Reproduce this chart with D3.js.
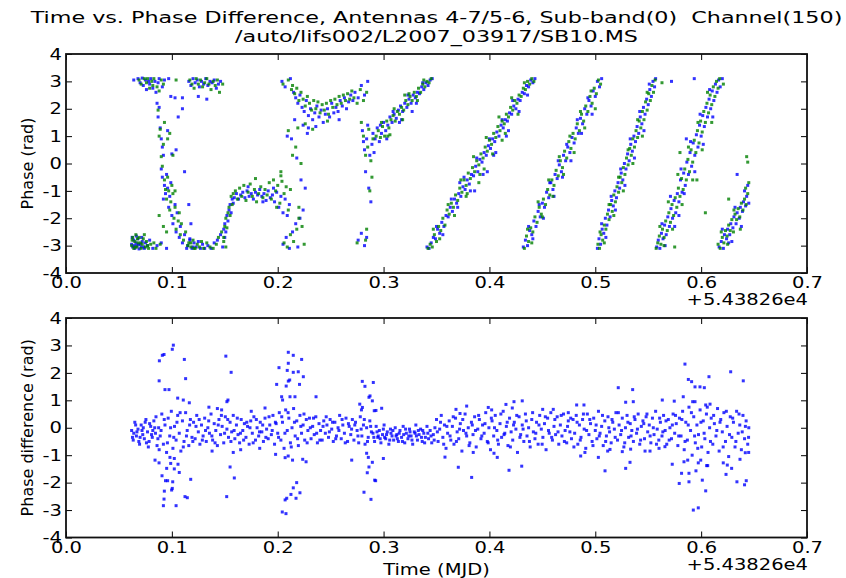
<!DOCTYPE html>
<html>
<head>
<meta charset="utf-8">
<script src="https://cdn.jsdelivr.net/npm/d3@7"></script>
<style>
  body { margin: 0; background: #fff; }
  text { font-family: "DejaVu Sans", sans-serif; fill: #000; }
</style>
</head>
<body>
<script>
// tick values and labels
var timeTicks = [0, 0.1, 0.2, 0.3, 0.4, 0.5, 0.6, 0.7];
var timeTickLabels = ['0.0', '0.1', '0.2', '0.3', '0.4', '0.5', '0.6', '0.7'];
var phaseTicks = [-4, -3, -2, -1, 0, 1, 2, 3, 4];
var phaseTickLabels = ['-4', '-3', '-2', '-1', '0', '1', '2', '3', '4'];
var timeOffsetLabel = '+5.43826e4';

// phase of first baseline (blue), [time, rad]
var phaseA = [
  [.062,-2.95],[.063,-3.05],[.064,-2.8],[.065,-3.1],[.066,-2.9],[.067,-3.0],[.068,-2.75],[.069,-3.12],[.070,-2.95],[.071,-3.05],
  [.072,-2.85],[.074,-3.1],[.075,-2.9],[.077,-3.0],[.079,-2.8],[.082,-3.1],[.086,-3.0],[.090,-2.9],[.095,-3.1],
  [.0625,-2.7],[.0645,-3.0],[.0665,-2.65],[.0685,-2.95],[.0715,-2.7],[.0735,-3.05],
  [.064,3.05],[.068,3.1],[.070,2.95],[.072,3.12],[.073,2.85],[.075,3.05],[.076,2.7],[.078,3.0],[.079,2.9],[.080,3.1],
  [.082,2.75],[.084,3.0],[.085,2.6],[.087,2.95],[.088,3.1],[.091,2.8],[.093,3.05],[.097,3.1],
  [.086,2.2],[.087,1.7],[.088,2.05],[.089,1.3],[.090,0.9],[.091,0.6],[.092,0.3],[.090,-0.2],[.091,-0.5],[.093,-0.8],
  [.094,-1.1],[.092,-1.3],[.095,-0.4],[.096,-0.9],[.097,-1.6],[.098,-1.2],[.099,-0.7],[.100,-1.9],[.101,-2.2],[.103,-1.5],
  [.104,-2.5],[.105,-1.8],[.107,-2.7],[.108,-2.3],[.110,-2.9],[.112,-2.6],[.114,-3.1],[.117,-2.8],[.120,-3.05],[.096,1.2],
  [.100,0.35],[.104,0.5],[.106,1.7],[.099,2.45],[.103,2.4],[.110,2.0],[.112,-0.3],[.116,-1.5],[.118,-2.2],
  [.115,-3.0],[.117,-2.75],[.119,-3.1],[.121,-2.9],[.123,-3.05],[.125,-2.85],[.127,-3.1],[.129,-2.95],[.131,-3.1],[.134,-3.0],
  [.137,-3.1],[.140,-2.9],[.143,-2.8],[.146,-2.6],[.148,-3.05],[.150,-2.7],
  [.116,3.0],[.118,2.85],[.120,3.1],[.122,2.95],[.124,3.05],[.126,2.8],[.128,3.0],[.130,2.9],[.132,3.1],[.134,2.85],
  [.136,3.0],[.138,2.95],[.140,3.05],[.142,2.75],[.144,2.9],[.146,3.0],[.125,2.45],[.133,2.35],[.110,2.4],
  [.149,-2.4],[.150,-2.2],[.151,-2.5],[.152,-1.9],[.153,-2.1],[.154,-1.7],[.155,-1.5],[.156,-1.8],[.157,-1.3],[.158,-1.45],
  [.159,-1.25],[.161,-1.1],[.163,-1.3],[.165,-1.15],[.167,-1.05],[.169,-1.25],[.171,-1.0],[.173,-1.2],[.175,-1.1],[.177,-1.3],
  [.179,-1.05],[.181,-1.15],[.183,-0.95],[.185,-1.2],[.187,-1.1],[.189,-1.35],[.191,-1.0],[.193,-1.25],[.195,-1.15],[.197,-1.4],
  [.199,-1.05],[.201,-1.6],[.203,-1.2],[.205,-1.8],[.207,-1.3],[.209,-1.9],[.211,-1.5],[.172,-0.85],[.186,-1.4],[.196,-0.9],
  [.205,-2.95],[.208,-2.7],[.211,-3.1],[.214,-2.5],[.217,-2.2],[.219,-3.05],[.221,-2.0],[.224,-1.7],[.226,-0.9],[.222,-0.6],
  [.218,0.2],[.213,0.9],[.209,1.0],[.224,1.4],[.216,1.6],[.228,1.1],[.204,3.0],[.207,2.8],[.212,3.1],
  [.215,2.6],[.217,2.4],[.219,2.2],[.221,2.5],[.223,2.05],[.225,1.9],[.227,2.3],[.229,1.75],[.231,2.0],[.233,1.6],
  [.235,1.85],[.237,2.1],[.239,1.7],[.241,1.95],[.243,1.5],[.245,1.8],[.247,2.0],[.249,1.7],[.251,2.2],[.253,1.85],
  [.255,2.05],[.257,1.9],[.259,2.3],[.261,2.1],[.263,2.4],[.265,2.0],[.267,2.25],[.269,2.5],[.271,2.3],[.273,2.6],
  [.276,2.4],[.279,2.85],[.282,2.5],[.285,3.0],[.229,1.3],[.236,1.35],[.258,1.6],
  [.280,1.2],[.281,0.8],[.282,0.5],[.283,-0.3],[.284,0.9],[.285,1.4],[.286,-0.9],[.287,0.3],[.288,-1.4],[.289,0.7],
  [.290,1.1],[.291,0.4],[.276,-2.8],[.279,-2.55],[.282,-3.0],[.284,-2.7],
  [.292,0.9],[.294,1.3],[.296,0.8],[.298,1.1],[.300,1.5],[.302,1.2],[.304,1.4],[.306,1.7],[.308,1.5],[.310,1.8],
  [.312,1.65],[.314,1.95],[.316,2.1],[.318,1.9],[.320,2.2],[.322,2.05],[.324,2.35],[.326,2.2],[.328,2.5],[.330,2.4],
  [.332,2.6],[.334,2.55],[.336,2.8],[.338,2.7],[.340,2.95],[.342,2.85],[.344,3.05],[.346,3.1],[.315,1.5],[.327,1.9],
  [.297,1.4],[.303,0.9],[.309,1.9],[.317,1.6],[.323,2.5],[.331,2.2],[.337,2.95],
  [.341,-3.05],[.343,-3.1],[.345,-2.9],[.347,-2.7],[.349,-2.75],[.351,-2.4],[.353,-2.55],[.355,-2.15],[.357,-2.3],[.359,-1.9],
  [.361,-1.95],[.363,-1.6],[.365,-1.75],[.367,-1.3],[.369,-1.45],[.371,-1.1],[.373,-1.2],[.375,-0.85],[.377,-0.95],[.379,-0.6],
  [.381,-0.75],[.383,-0.4],[.385,-0.45],[.387,-0.1],[.389,-0.3],[.391,0.15],[.393,0.05],[.395,0.4],[.397,0.3],[.399,0.65],
  [.401,0.55],[.403,0.9],[.405,0.8],[.407,1.15],[.409,1.0],[.411,1.4],[.413,1.3],[.415,1.6],[.417,1.55],[.419,1.85],
  [.421,1.8],[.423,2.1],[.425,2.0],[.427,2.35],[.429,2.3],[.431,2.6],[.433,2.55],[.435,2.85],[.437,2.8],[.439,3.05],
  [.441,2.95],[.443,3.1],[.372,-0.7],[.386,-1.0],[.404,0.3],[.418,1.2],[.398,-0.3],
  [.350,-2.3],[.356,-2.6],[.364,-1.3],[.370,-1.6],[.376,-0.5],[.382,-1.0],[.388,0.2],[.394,-0.4],[.400,0.9],[.406,0.4],
  [.412,1.6],[.416,1.0],[.422,2.3],[.428,1.9],[.436,2.5],
  [.432,-3.05],[.434,-2.8],[.436,-3.0],[.438,-2.45],[.440,-2.6],[.442,-2.1],[.444,-2.3],[.446,-1.75],[.448,-1.95],[.450,-1.45],
  [.452,-1.6],[.454,-1.05],[.456,-1.25],[.458,-0.7],[.460,-0.95],[.462,-0.4],[.464,-0.55],[.466,-0.05],[.468,-0.3],[.470,0.3],
  [.472,0.1],[.474,0.6],[.476,0.4],[.478,0.95],[.480,0.75],[.482,1.3],[.484,1.1],[.486,1.65],[.488,1.45],[.490,2.0],
  [.492,1.8],[.494,2.3],[.496,2.1],[.498,2.65],[.500,2.45],[.502,3.0],[.504,2.8],[.506,3.1],
  [.437,-2.3],[.441,-2.75],[.447,-1.5],[.451,-2.0],[.457,-0.7],[.461,-1.2],[.465,0.1],[.469,-0.5],[.473,0.7],[.477,0.1],
  [.483,1.6],[.487,1.1],[.493,2.4],[.497,1.8],
  [.502,-3.1],[.5035,-2.75],[.505,-2.95],[.5065,-2.4],[.508,-2.55],[.5095,-2.0],[.511,-2.25],[.5125,-1.7],[.514,-1.95],[.5155,-1.35],
  [.517,-1.55],[.5185,-1.0],[.520,-1.25],[.5215,-0.7],[.523,-0.9],[.5245,-0.35],[.526,-0.6],[.5275,0.0],[.529,-0.2],[.5305,0.35],
  [.532,0.1],[.5335,0.7],[.535,0.45],[.5365,1.0],[.538,0.8],[.5395,1.35],[.541,1.1],[.5425,1.7],[.544,1.45],[.5455,2.05],
  [.547,1.8],[.5485,2.35],[.550,2.15],[.5515,2.7],[.553,2.45],[.5545,3.0],[.556,2.8],[.557,3.1],
  [.506,-2.2],[.510,-2.7],[.515,-1.2],[.519,-1.7],[.524,-0.2],[.528,-0.8],[.533,0.9],[.537,0.2],[.542,1.9],[.546,1.2],[.551,2.9],
  [.558,-3.05],[.5595,-2.8],[.561,-3.1],[.5625,-2.55],[.564,-2.75],[.5655,-2.25],[.567,-2.6],[.5685,-1.95],[.570,-2.3],[.5715,-1.65],
  [.573,-2.0],[.5745,-1.35],[.576,-1.8],[.5775,-1.1],[.579,-1.4],[.5805,-0.6],[.582,-1.05],[.5835,-0.35],[.585,-0.8],[.5865,0.05],
  [.588,-0.4],[.5895,0.4],[.591,-0.1],[.5925,0.75],[.594,0.3],[.5955,1.05],[.597,0.6],[.5985,1.4],[.600,1.0],[.6015,1.75],
  [.603,1.35],[.6045,2.05],[.606,1.7],[.6075,2.35],[.609,2.0],[.6105,2.65],[.612,2.3],[.6135,2.9],[.615,2.6],[.6165,3.05],
  [.618,2.8],[.620,3.1],[.5935,3.1],[.572,3.0],[.586,0.9],[.579,-1.9],
  [.563,-2.2],[.566,-3.0],[.571,-1.2],[.575,-2.3],[.581,-0.2],[.584,-1.1],[.590,0.8],[.594,-0.3],[.599,1.8],[.602,0.7],
  [.608,2.7],[.611,1.7],
  [.617,-3.05],[.619,-2.85],[.621,-3.1],[.622,-2.6],[.624,-2.75],[.625,-2.4],[.627,-2.6],[.628,-2.2],[.630,-2.35],[.631,-1.95],
  [.633,-2.2],[.634,-1.8],[.636,-2.0],[.637,-1.6],[.639,-1.75],[.640,-1.4],[.642,-1.55],[.643,-1.2],[.645,-1.45],[.644,-0.8],
  [.634,-0.4],[.629,-2.85],[.620,-2.4],[.626,-2.9],[.632,-1.6],[.638,-2.3],[.641,-1.0]
];

// phase of second baseline (green), [time, rad]
var phaseB = [
  [.062,-3.0],[.063,-2.7],[.064,-3.1],[.065,-2.85],[.066,-2.6],[.067,-3.05],[.068,-2.9],[.069,-2.7],[.071,-3.1],[.072,-2.95],
  [.073,-2.75],[.075,-3.05],[.076,-2.85],[.078,-3.1],[.080,-2.95],[.083,-2.9],[.085,-3.1],[.089,-2.95],
  [.0625,-2.8],[.0655,-3.05],[.0675,-2.75],[.0705,-2.9],[.074,-2.6],[.077,-3.0],
  [.069,3.05],[.071,2.9],[.074,3.1],[.076,2.95],[.077,3.1],[.079,2.75],[.081,3.0],[.082,2.85],[.083,3.1],[.086,2.8],
  [.088,2.65],[.090,3.05],[.092,2.9],
  [.087,1.95],[.088,1.0],[.089,1.25],[.090,0.25],[.091,-0.1],[.092,0.7],[.093,-0.6],[.094,-0.95],[.095,-1.3],[.096,-0.5],
  [.097,-1.0],[.098,-1.7],[.099,-1.4],[.100,-0.8],[.101,-1.1],[.102,-2.0],[.103,-1.6],[.104,-2.4],[.106,-2.1],[.107,-1.8],
  [.108,-2.6],[.109,-2.2],[.111,-2.8],[.113,-2.5],[.115,-3.0],[.118,-2.9],[.121,-3.1],[.093,1.5],[.096,0.9],[.098,1.1],
  [.101,0.3],[.088,-1.9],[.092,-2.3],[.095,-2.5],[.103,-1.0],
  [.116,-2.9],[.118,-3.05],[.120,-2.8],[.122,-3.1],[.124,-2.95],[.126,-3.05],[.128,-2.85],[.130,-3.1],[.133,-2.9],[.136,-3.05],
  [.139,-3.1],[.142,-2.95],[.144,-2.7],[.147,-2.5],[.149,-2.85],[.151,-3.05],
  [.117,3.05],[.119,2.9],[.121,2.75],[.123,3.1],[.125,2.9],[.127,3.05],[.129,2.8],[.131,2.95],[.133,3.1],[.135,2.9],
  [.137,2.7],[.139,3.0],[.141,2.85],[.143,3.05],[.145,2.6],[.148,2.9],[.104,3.05],
  [.149,-2.7],[.150,-2.3],[.151,-2.0],[.152,-2.35],[.153,-1.8],[.154,-1.6],[.155,-1.9],[.156,-1.2],[.157,-1.5],[.158,-1.1],
  [.160,-1.0],[.162,-1.3],[.164,-0.9],[.166,-1.2],[.168,-0.8],[.170,-1.35],[.172,-1.05],[.174,-0.75],[.176,-1.2],[.178,-0.95],
  [.180,-1.4],[.182,-1.1],[.184,-0.85],[.186,-1.25],[.188,-0.95],[.190,-1.15],[.192,-0.7],[.194,-1.3],[.196,-0.6],[.198,-1.0],
  [.200,-0.8],[.202,-1.45],[.204,-0.65],[.206,-1.1],[.208,-0.85],[.210,-1.7],[.212,-0.95],[.179,-0.55],[.203,-0.45],[.199,-1.6],
  [.206,-2.9],[.209,-3.05],[.212,-2.6],[.215,-2.85],[.218,-2.4],[.220,-2.0],[.223,-2.3],[.225,-2.95],[.220,-1.6],[.217,0.6],
  [.214,0.3],[.222,0.0],[.210,1.2],[.219,1.3],[.203,-0.3],[.205,2.9],[.210,3.05],[.213,2.7],
  [.214,2.85],[.216,2.55],[.218,2.75],[.220,2.3],[.222,2.6],[.224,2.35],[.226,2.1],[.228,2.45],[.230,2.2],[.232,1.95],
  [.234,2.3],[.236,2.0],[.238,2.25],[.240,1.85],[.242,2.15],[.244,1.95],[.246,2.2],[.248,1.8],[.250,2.3],[.252,2.05],
  [.254,2.35],[.256,2.15],[.258,2.45],[.260,2.2],[.262,2.5],[.264,2.3],[.266,2.55],[.268,2.35],[.270,2.65],[.272,2.4],
  [.275,2.2],[.278,2.7],[.281,2.3],[.284,2.6],[.226,1.45],[.233,1.25],[.247,1.55],
  [.279,1.5],[.281,1.0],[.283,0.3],[.285,0.6],[.286,1.25],[.288,0.1],[.289,-0.5],[.290,0.9],[.287,-1.0],[.284,-2.4],
  [.275,-2.9],[.283,-2.8],
  [.293,1.0],[.295,1.2],[.297,0.95],[.299,1.35],[.301,1.0],[.303,1.55],[.305,1.3],[.307,1.6],[.309,1.75],[.311,1.55],
  [.313,1.9],[.315,1.8],[.317,2.05],[.319,1.95],[.321,2.3],[.323,2.15],[.325,2.45],[.327,2.3],[.329,2.6],[.331,2.45],
  [.333,2.75],[.335,2.6],[.337,2.9],[.339,2.8],[.341,3.0],[.343,2.95],[.345,3.1],[.306,1.05],[.320,2.5],
  [.298,1.5],[.304,1.0],[.310,2.0],[.318,1.6],[.324,2.55],[.332,2.3],[.338,3.05],
  [.342,-3.1],[.344,-2.95],[.346,-3.05],[.348,-2.6],[.350,-2.85],[.352,-2.3],[.354,-2.45],[.356,-2.0],[.358,-2.25],[.360,-1.7],
  [.362,-1.85],[.364,-1.45],[.366,-1.6],[.368,-1.15],[.370,-1.35],[.372,-0.9],[.374,-1.05],[.376,-0.6],[.378,-0.8],[.380,-0.35],
  [.382,-0.55],[.384,-0.15],[.386,-0.3],[.388,0.1],[.390,-0.05],[.392,0.35],[.394,0.2],[.396,0.6],[.398,0.45],[.400,0.85],
  [.402,0.7],[.404,1.1],[.406,0.95],[.408,1.35],[.410,1.2],[.412,1.55],[.414,1.45],[.416,1.8],[.418,1.7],[.420,2.05],
  [.422,1.95],[.424,2.3],[.426,2.2],[.428,2.5],[.430,2.45],[.432,2.75],[.434,2.7],[.436,3.0],[.438,2.9],[.440,3.1],
  [.442,3.0],[.378,-1.2],[.395,-0.2],[.412,0.85],[.390,-0.7],
  [.347,-2.4],[.353,-2.75],[.361,-1.5],[.367,-1.9],[.373,-0.6],[.379,-1.1],[.385,0.25],[.391,-0.4],[.397,0.95],[.403,0.35],
  [.409,1.7],[.415,1.1],[.421,2.4],[.427,1.8],[.433,2.95],
  [.433,-3.1],[.435,-2.65],[.437,-2.85],[.439,-2.35],[.441,-2.5],[.443,-1.95],[.445,-2.15],[.447,-1.6],[.449,-1.85],[.451,-1.3],
  [.453,-1.5],[.455,-0.95],[.457,-1.15],[.459,-0.6],[.461,-0.8],[.463,-0.25],[.465,-0.45],[.467,0.1],[.469,-0.15],[.471,0.45],
  [.473,0.2],[.475,0.8],[.477,0.55],[.479,1.1],[.481,0.9],[.483,1.45],[.485,1.2],[.487,1.8],[.489,1.55],[.491,2.1],
  [.493,1.9],[.495,2.45],[.497,2.2],[.499,2.75],[.501,2.55],[.503,3.05],[.505,2.9],
  [.436,-2.4],[.440,-2.9],[.446,-1.4],[.450,-1.95],[.456,-0.6],[.460,-1.2],[.466,0.25],[.470,-0.4],[.476,1.0],[.480,0.4],
  [.486,1.9],[.490,1.3],[.496,2.65],[.500,2.0],
  [.5025,-2.95],[.504,-3.1],[.5055,-2.6],[.507,-2.8],[.5085,-2.25],[.510,-2.4],[.5115,-1.85],[.513,-2.05],[.5145,-1.5],[.516,-1.75],
  [.5175,-1.15],[.519,-1.4],[.5205,-0.85],[.522,-1.05],[.5235,-0.5],[.525,-0.7],[.5265,-0.15],[.528,-0.4],[.5295,0.2],[.531,-0.05],
  [.5325,0.55],[.534,0.3],[.5355,0.9],[.537,0.6],[.5385,1.2],[.540,0.95],[.5415,1.55],[.543,1.3],[.5445,1.9],[.546,1.6],
  [.5475,2.25],[.549,1.95],[.5505,2.55],[.552,2.3],[.5535,2.85],[.555,2.6],[.5565,3.05],
  [.5045,-2.5],[.5085,-2.9],[.513,-1.5],[.5175,-1.9],[.522,-0.5],[.5265,-1.0],[.531,0.5],[.5355,0.0],[.540,1.6],[.5445,1.0],[.549,2.6],
  [.5575,-3.1],[.559,-2.9],[.5605,-2.65],[.562,-2.95],[.5635,-2.4],[.565,-2.7],[.5665,-2.1],[.568,-2.45],[.5695,-1.8],[.571,-2.15],
  [.5725,-1.5],[.574,-1.9],[.5755,-1.25],[.577,-1.6],[.5785,-0.9],[.580,-1.2],[.5815,-0.55],[.583,-0.95],[.5845,-0.2],[.586,-0.6],
  [.5875,0.15],[.589,-0.3],[.5905,0.5],[.592,0.05],[.5935,0.85],[.595,0.4],[.5965,1.2],[.598,0.75],[.5995,1.55],[.601,1.15],
  [.6025,1.9],[.604,1.5],[.6055,2.2],[.607,1.85],[.6085,2.5],[.610,2.15],[.6115,2.8],[.613,2.45],[.6145,3.0],[.616,2.75],
  [.6175,3.1],[.621,2.9],[.563,2.95],[.575,-3.05],[.580,0.4],[.604,-1.8],[.596,-0.6],
  [.561,-2.3],[.565,-3.0],[.569,-1.4],[.573,-2.4],[.578,-0.4],[.582,-1.5],[.588,0.6],[.592,-0.6],[.597,1.5],[.601,0.5],
  [.606,2.6],[.610,1.5],
  [.616,-2.95],[.618,-3.1],[.620,-2.7],[.6215,-2.9],[.623,-2.45],[.6245,-2.65],[.626,-2.25],[.6275,-2.45],[.629,-2.05],[.6305,-2.5],
  [.632,-1.85],[.6335,-2.05],[.635,-1.65],[.6365,-1.95],[.638,-1.45],[.6395,-1.7],[.641,-1.3],[.6425,-1.5],[.644,-1.1],[.645,-0.7],
  [.643,0.25],[.644,0.05],[.626,-1.3],[.619,-2.5],[.625,-2.95],[.631,-1.7],[.637,-2.4],[.642,-0.9]
];

// phase difference, main band, [time, rad]
var phaseDiff = [
  [.062,-0.1],[.0635,-0.45],[.065,0.2],[.0665,-0.3],[.068,-0.05],[.0695,-0.6],[.071,0.1],[.0725,-0.25],[.074,-0.4],[.0755,0.3],
  [.077,-0.15],[.0785,-0.5],[.080,0.05],[.0815,-0.35],[.083,0.25],[.0845,-0.2],[.086,-0.65],[.0875,0.0],[.089,-0.3],
  [.064,-0.2],[.067,-0.15],[.070,-0.35],[.073,0.0],[.076,-0.55],[.079,0.15],[.082,-0.1],[.085,0.4],[.088,-0.8],
  [.0628,-0.35],[.0658,0.1],[.0688,-0.5],[.0718,-0.1],[.0748,0.2],[.0778,-0.7],[.0808,-0.25],[.0838,0.0],[.0868,-0.4],
  [.0905,0.5],[.092,-0.6],[.0935,0.1],[.095,-0.9],[.0965,0.35],[.098,-0.3],[.0995,0.6],[.101,-0.75],[.1025,0.05],[.104,-0.45],
  [.1055,0.45],[.107,-0.2],[.1085,-0.85],[.110,0.25],[.1115,-0.5],[.113,0.55],[.1145,-0.1],[.116,-0.65],[.1175,0.3],[.119,-0.35],
  [.0898,-0.1],[.0928,0.3],[.0958,-0.55],[.0988,0.0],[.1018,-0.35],[.1048,0.2],[.1078,0.55],[.1108,-0.7],[.1138,-0.3],[.1168,0.1],
  [.1205,0.2],[.122,-0.4],[.1235,0.45],[.125,-0.15],[.1265,-0.6],[.128,0.1],[.1295,-0.3],[.131,0.35],[.1325,-0.5],[.134,0.0],
  [.1355,-0.2],[.137,0.5],[.1385,-0.45],[.140,0.15],[.1415,-0.1],[.143,-0.65],[.1445,0.3],[.146,-0.25],[.1475,0.05],[.149,-0.55],
  [.1505,0.4],[.152,-0.05],[.1535,-0.35],[.155,0.2],[.1565,-0.15],[.158,0.45],[.1595,-0.4],[.161,0.1],[.1625,-0.25],[.164,-0.55],
  [.1655,0.3],[.167,-0.1],[.1685,0.15],[.170,-0.35],[.1715,0.05],[.173,-0.6],[.1745,0.25],[.176,-0.2],[.1775,0.4],[.179,-0.45],
  [.1805,0.0],[.182,-0.3],[.1835,0.2],[.185,-0.15],[.1865,-0.5],[.188,0.35],[.1895,-0.05],[.191,-0.4],[.1925,0.1],[.194,-0.25],
  [.1955,0.45],[.197,-0.6],[.1985,0.15],[.200,-0.2],
  [.1198,-0.5],[.1228,0.05],[.1258,0.3],[.1288,-0.45],[.1318,-0.1],[.1348,0.25],[.1378,-0.3],[.1408,-0.55],[.1438,0.1],[.1468,0.45],
  [.1498,-0.2],[.1528,0.3],[.1558,-0.5],[.1588,-0.1],[.1618,0.35],[.1648,-0.2],[.1678,-0.45],[.1708,0.2],[.1738,0.0],[.1768,-0.55],
  [.1798,0.3],[.1828,-0.15],[.1858,0.1],[.1888,-0.35],[.1918,0.4],[.1948,-0.1],[.1978,0.2],
  [.2015,0.55],[.203,-0.45],[.2045,0.2],[.206,-0.75],[.2075,0.65],[.209,-0.1],[.2105,0.35],[.212,-0.55],[.2135,0.0],[.215,0.7],
  [.2165,-0.3],[.218,0.25],[.2195,-0.65],[.221,0.45],[.2225,-0.2],[.224,0.1],[.2255,-0.45],[.227,0.3],[.2285,-0.1],
  [.2008,-0.35],[.2038,0.4],[.2068,-0.2],[.2098,0.55],[.2128,-0.7],[.2158,0.2],[.2188,-0.4],[.2218,0.05],[.2248,0.5],[.2278,-0.55],
  [.230,0.35],[.2315,-0.4],[.233,0.05],[.2345,-0.25],[.236,0.4],[.2375,-0.55],[.239,0.15],[.2405,-0.1],[.242,-0.45],[.2435,0.25],
  [.245,-0.2],[.2465,0.1],[.248,-0.35],[.2495,0.3],[.251,-0.05],[.2525,-0.5],[.254,0.2],[.2555,-0.3],[.257,0.0],[.2585,0.45],
  [.260,-0.4],[.2615,0.1],[.263,-0.2],[.2645,0.35],[.266,-0.5],[.2675,0.05],[.269,-0.25],[.2705,0.3],
  [.2308,0.0],[.2338,0.35],[.2368,-0.2],[.2398,-0.45],[.2428,0.05],[.2458,0.4],[.2488,-0.15],[.2518,0.2],[.2548,-0.4],[.2578,-0.1],
  [.2608,0.3],[.2638,-0.55],[.2668,0.15],[.2698,-0.05],
  [.272,-0.45],[.2735,0.2],[.275,-0.1],[.2765,-0.55],[.278,0.4],[.2795,-0.3],[.281,0.1],[.2825,-0.6],[.284,0.0],[.2855,-0.35],
  [.287,0.25],[.2885,-0.15],[.2728,0.1],[.2758,-0.3],[.2788,-0.05],[.2818,0.3],[.2848,-0.5],[.2878,0.05],
  [.290,-0.2],[.2915,-0.5],[.293,0.05],[.2945,-0.35],[.296,-0.1],[.2975,-0.55],[.299,-0.25],[.3005,0.1],[.302,-0.4],[.3035,-0.15],
  [.305,-0.6],[.3065,-0.05],[.308,-0.3],[.3095,-0.45],[.311,0.0],[.3125,-0.25],[.314,-0.5],[.3155,-0.1],[.317,-0.35],[.3185,0.05],
  [.320,-0.55],[.3215,-0.2],[.323,-0.4],[.3245,-0.05],[.326,-0.3],[.3275,-0.6],[.329,-0.15],[.3305,0.1],[.332,-0.45],[.3335,-0.25],
  [.335,-0.05],[.3365,-0.5],[.338,-0.2],[.3395,-0.35],[.341,0.05],[.3425,-0.4],[.344,-0.1],[.3455,-0.55],[.347,-0.25],[.3485,0.0],
  [.295,-0.3],[.301,-0.35],[.307,-0.2],[.313,-0.4],[.319,-0.25],[.325,-0.15],[.331,-0.3],[.337,-0.1],
  [.2908,-0.35],[.2938,-0.15],[.2968,-0.4],[.2998,-0.05],[.3028,-0.25],[.3058,-0.45],[.3088,-0.1],[.3118,-0.3],[.3148,-0.2],[.3178,-0.5],
  [.3208,-0.05],[.3238,-0.3],[.3268,-0.45],[.3298,-0.2],[.3328,-0.1],[.3358,-0.35],[.3388,-0.55],[.3418,-0.2],[.3448,-0.3],[.3478,-0.45],
  [.350,0.3],[.3515,-0.5],[.353,-0.05],[.3545,0.45],[.356,-0.35],[.3575,0.1],[.359,-0.75],[.3605,-0.2],[.362,0.25],[.3635,-0.45],
  [.365,0.05],[.3665,-0.6],[.368,0.35],[.3695,-0.15],[.371,-0.4],[.3725,0.15],[.374,-0.85],[.3755,-0.1],[.377,0.5],[.3785,-0.3],
  [.380,0.0],[.3815,-0.55],[.383,0.2],[.3845,-0.25],[.386,0.4],[.3875,-0.7],[.389,-0.05],[.3905,0.3],[.392,-0.4],[.3935,0.1],
  [.395,-0.2],[.3965,0.55],[.398,-0.5],[.3995,0.0],[.401,-0.8],[.4025,0.25],[.404,-0.3],[.4055,0.45],[.407,-0.1],[.4085,-0.6],
  [.410,0.15],[.4115,-0.35],[.413,0.6],[.4145,-0.2],[.416,0.05],[.4175,-0.65],[.419,0.35],[.4205,-0.15],[.422,-0.45],[.4235,0.2],
  [.425,-0.05],[.4265,-0.9],[.428,0.4],[.4295,-0.25],[.431,0.1],[.4325,-0.5],[.434,0.5],[.4355,-0.3],[.437,0.0],[.4385,-0.7],
  [.440,0.3],[.4415,-0.15],[.443,-0.4],[.4445,0.2],[.446,-0.6],[.4475,0.45],[.449,-0.05],[.4505,-0.35],[.452,0.15],[.4535,-0.8],
  [.455,0.35],[.4565,-0.2],[.458,0.55],[.4595,-0.45],[.461,0.05],[.4625,-0.25],[.464,0.4],[.4655,-0.6],[.467,0.1],[.4685,-0.3],
  [.470,0.5],[.4715,-0.1],[.473,-0.55],[.4745,0.25],[.476,-0.15],[.4775,-0.4],[.479,0.3],
  [.3508,-0.15],[.3538,0.2],[.3568,-0.6],[.3598,0.05],[.3628,-0.3],[.3658,0.4],[.3688,-0.5],[.3718,-0.05],[.3748,0.3],[.3778,-0.2],
  [.3808,-0.65],[.3838,0.1],[.3868,-0.1],[.3898,0.45],[.3928,-0.3],[.3958,0.15],[.3988,-0.55],[.4018,0.35],[.4048,0.0],[.4078,-0.45],
  [.4108,0.5],[.4138,-0.25],[.4168,0.2],[.4198,-0.7],[.4228,0.1],[.4258,0.45],[.4288,-0.35],[.4318,-0.05],[.4348,0.25],[.4378,-0.5],
  [.4408,0.55],[.4438,-0.2],[.4468,0.1],[.4498,-0.6],[.4528,0.4],[.4558,-0.1],[.4588,-0.35],[.4618,0.3],[.4648,-0.15],[.4678,0.45],
  [.4708,-0.5],[.4738,0.05],[.4768,0.35],[.4798,-0.7],
  [.4805,-0.2],[.482,0.45],[.4835,-0.6],[.485,0.1],[.4865,-0.35],[.488,0.3],[.4895,-0.05],[.491,-0.75],[.4925,0.5],[.494,-0.25],
  [.4955,0.15],[.497,-0.5],[.4985,0.35],[.500,-0.1],[.5015,-0.4],[.503,0.6],[.5045,-0.2],[.506,0.05],[.5075,-0.65],[.509,0.25],
  [.5105,-0.3],[.512,0.4],[.5135,-0.15],[.515,-0.55],[.5165,0.2],[.518,-0.05],[.5195,0.55],[.521,-0.45],[.5225,0.1],[.524,-0.25],
  [.5255,0.35],[.527,-0.7],[.5285,0.0],[.530,0.45],[.5315,-0.35],[.533,0.15],[.5345,-0.1],[.536,-0.5],[.5375,0.3],[.539,-0.2],
  [.5405,0.5],[.542,-0.6],[.5435,0.05],[.545,0.25],[.5465,-0.4],[.548,0.4],[.5495,-0.15],[.551,0.1],[.5525,-0.55],[.554,0.35],
  [.5555,-0.25],[.557,0.6],[.5585,-0.05],[.560,-0.45],[.5615,0.2],[.563,-0.3],[.5645,0.45],[.566,-0.1],[.5675,-0.6],[.569,0.3],
  [.5705,0.0],[.572,-0.4],[.5735,0.5],[.575,-0.2],[.5765,0.15],[.578,-0.65],[.5795,0.35],
  [.4828,0.2],[.4858,-0.45],[.4888,0.5],[.4918,-0.1],[.4948,0.3],[.4978,-0.65],[.5008,0.1],[.5038,-0.3],[.5068,0.45],[.5098,-0.5],
  [.5128,0.0],[.5158,0.3],[.5188,-0.35],[.5218,0.55],[.5248,-0.1],[.5278,-0.55],[.5308,0.2],[.5338,-0.3],[.5368,0.4],[.5398,-0.05],
  [.5428,-0.45],[.5458,0.15],[.5488,0.5],[.5518,-0.3],[.5548,0.0],[.5578,-0.6],[.5608,0.35],[.5638,-0.15],[.5668,0.25],[.5698,-0.45],
  [.5728,0.1],[.5758,0.45],[.5788,-0.3],
  [.581,-0.3],[.5825,0.6],[.584,-0.8],[.5855,0.2],[.587,-0.45],[.5885,0.75],[.590,-0.1],[.5915,-1.0],[.593,0.4],[.5945,-0.55],
  [.596,0.1],[.5975,-0.25],[.599,0.65],[.6005,-0.7],[.602,0.25],[.6035,-0.4],[.605,0.5],[.6065,-0.9],[.608,0.0],[.6095,0.35],
  [.611,-0.6],[.6125,0.15],[.614,-0.3],[.6155,0.7],[.617,-0.85],[.6185,0.3],[.620,-0.15],[.6215,0.55],[.623,-0.5],[.6245,0.05],
  [.626,-1.05],[.6275,0.4],[.629,-0.35],[.6305,0.2],[.632,-0.7],[.6335,0.6],[.635,-0.2],[.6365,0.1],[.638,-0.8],[.6395,0.45],
  [.641,-0.4],[.6425,0.25],[.644,-0.6],[.645,0.0],
  [.5818,0.3],[.5848,-0.5],[.5878,0.1],[.5908,0.55],[.5938,-0.3],[.5968,-0.75],[.5998,0.2],[.6028,-0.2],[.6058,0.75],[.6088,-0.5],
  [.6118,0.45],[.6148,-0.1],[.6178,0.2],[.6208,-0.7],[.6238,0.6],[.6268,-0.25],[.6298,0.35],[.6328,-0.5],[.6358,0.5],[.6388,-0.15],
  [.6418,0.05],[.6448,-0.35]
];

// phase difference, scattered points away from the band
var phaseDiffOutliers = [
  [.1014,3.01],[.1004,2.86],[.0926,2.67],[.091,2.64],[.0882,2.44],[.1118,2.49],[.088,1.71],[.113,1.79],[.0935,1.39],[.0973,1.39],
  [.1055,1.08],[.1108,1.01],[.1165,0.91],[.151,2.61],[.156,2.02],[.153,1.01],[.152,0.95],
  [.092,-2.84],[.104,-2.84],[.0926,-2.6],[.0998,-2.27],[.1004,-2.21],[.0929,-2.31],[.094,-1.93],[.096,-1.93],[.1008,-1.97],
  [.0907,-1.75],[.107,-1.63],[.1124,-2.51],[.1146,-2.55],[.1178,-1.88],[.0951,-1.48],[.1023,-1.5],[.0989,-1.3],[.1058,-1.33],
  [.0841,-1.18],[.0879,-1.28],[.0982,-1.08],[.1023,-1.12],[.1518,-2.51],[.159,-1.83],[.155,-1.43],[.158,-0.9],
  [.143,0.7],[.147,0.65],[.135,0.75],[.175,0.6],[.188,0.72],[.138,-0.85],[.165,-0.8],[.183,-0.75],
  [.21,2.75],[.2147,2.64],[.2226,2.49],[.21,2.35],[.209,2.09],[.2147,2.02],[.2194,2.04],[.2113,1.74],[.21,1.7],[.2242,1.86],
  [.2012,2.19],[.199,1.58],[.208,1.52],[.2206,1.58],[.2037,1.13],[.2046,1.01],[.2116,1.13],[.2163,1.13],[.2362,1.13],
  [.2043,-3.07],[.2078,-3.13],[.207,-2.63],[.2085,-2.57],[.2125,-2.43],[.2173,-2.57],[.221,-2.37],[.2147,-2.19],[.2179,-2.0],
  [.207,-1.09],[.2099,-1.03],[.214,-1.18],[.2236,-1.15],[.2268,-1.24],[.198,-0.97],
  [.2799,1.69],[.2903,1.65],[.2824,1.51],[.2872,1.16],[.2862,1.11],[.2894,0.98],[.2775,0.86],[.28,0.74],[.2791,0.65],[.2912,0.62],
  [.2982,0.71],[.2928,0.63],[.284,-0.93],[.2856,-1.08],[.2862,-1.43],[.2894,-1.26],[.2846,-1.64],[.2916,-1.91],[.2925,-1.93],
  [.2815,-2.35],[.2881,-2.61],[.2699,-1.18],[.2998,-1.12],
  [.358,-1.07],[.3706,-1.44],[.3832,-1.81],[.3847,-0.9],[.4185,-1.55],[.4305,-1.4],[.4043,-0.93],[.4074,-1.08],[.3785,0.79],
  [.3684,0.67],[.3722,0.52],[.4156,0.85],[.4232,0.95],[.431,0.98],[.4216,0.72],[.3989,0.74],[.4021,0.65],[.4503,0.67],
  [.4603,0.67],[.4745,0.55],
  [.5847,2.32],[.6279,2.04],[.6398,1.71],[.6074,1.86],[.5879,1.76],[.591,1.68],[.5942,1.49],[.5989,1.49],[.603,1.46],[.5217,1.46],
  [.5353,1.39],[.5633,1.01],[.5746,0.97],[.5831,1.13],[.592,0.95],[.5942,0.95],[.6084,0.86],[.6043,0.83],[.4824,0.83],[.4893,0.83],
  [.5287,0.93],[.5359,0.95],
  [.5926,-3.0],[.5973,-2.92],[.6043,-2.3],[.5793,-2.03],[.5885,-1.97],[.6011,-1.91],[.641,-2.08],[.6426,-1.93],[.6338,-1.97],
  [.6235,-1.7],[.5815,-1.66],[.5885,-1.66],[.5951,-1.57],[.5727,-1.33],[.5838,-1.24],[.5873,-1.18],[.5973,-1.28],[.5996,-1.18],
  [.6052,-1.38],[.6062,-1.38],[.6209,-1.28],[.6247,-1.36],[.6288,-1.48],[.6367,-1.15],[.5092,-1.57],[.5287,-1.48],[.5328,-1.26],
  [.5029,-1.08],[.4862,-1.03],[.4902,-0.9],[.5117,-0.85],[.5139,-0.79],[.5255,-0.87],[.5334,-0.78],[.547,-0.85],[.5517,-0.85],
  [.5602,-0.75],[.5658,-0.69],[.6417,-0.91],[.6449,-0.9]
];

var svgWidth = 846, svgHeight = 578;
var SX = 1.22;        // horizontal stretch of the original figure text
var titleSX = 1.39;
var fontSize = 16;
var markerSize = 3;

var svg = d3.select('body').append('svg')
    .attr('width', svgWidth)
    .attr('height', svgHeight);

svg.append('rect')
    .attr('width', svgWidth)
    .attr('height', svgHeight)
    .attr('fill', '#fff');

var plotLeft = 66, plotRight = 807;

var x = d3.scaleLinear().domain([0, 0.7]).range([plotLeft, plotRight]);

// title
svg.append('text')
    .attr('transform', 'translate(' + [(plotLeft + plotRight) / 2, 23] + ') scale(' + titleSX + ',1)')
    .attr('text-anchor', 'middle')
    .style('font-size', fontSize + 'px')
    .style('white-space', 'pre')
    .text('Time vs. Phase Difference, Antennas 4-7/5-6, Sub-band(0)  Channel(150)');
svg.append('text')
    .attr('transform', 'translate(' + [(plotLeft + plotRight) / 2, 42] + ') scale(' + titleSX + ',1)')
    .attr('text-anchor', 'middle')
    .style('font-size', fontSize + 'px')
    .text('/auto/lifs002/L2007_03917/SB10.MS');

function drawPanel(top, bottom, yLabel, layers) {
    var y = d3.scaleLinear().domain([-4, 4]).range([bottom, top]);
    var g = svg.append('g');

    // markers, clipped to the axes box
    var clipId = 'clip' + Math.round(top);
    svg.append('clipPath').attr('id', clipId)
        .append('rect')
        .attr('x', plotLeft).attr('y', top)
        .attr('width', plotRight - plotLeft).attr('height', bottom - top);

    var marks = g.append('g').attr('clip-path', 'url(#' + clipId + ')');
    layers.forEach(function(layer) {
        marks.append('g').selectAll('rect')
            .data(layer.data)
            .enter()
            .append('rect')
            .attr('x', function(d) { return x(d[0]) - markerSize / 2; })
            .attr('y', function(d) { return y(d[1]) - markerSize / 2; })
            .attr('width', markerSize)
            .attr('height', markerSize)
            .attr('fill', layer.color)
            .attr('fill-opacity', 0.8);
    });

    // bottom axis with labels, ticks pointing in
    var xAxisG = g.append('g')
        .attr('transform', 'translate(0,' + bottom + ')')
        .call(d3.axisBottom(x).tickValues(timeTicks)
            .tickFormat(function(d, i) { return timeTickLabels[i]; })
            .tickSizeInner(-6).tickSizeOuter(0).tickPadding(4));
    xAxisG.selectAll('text')
        .attr('transform', 'scale(' + SX + ',1)')
        .style('font-size', fontSize + 'px')
        .attr('fill', '#000');

    // top axis, ticks only
    g.append('g')
        .attr('transform', 'translate(0,' + top + ')')
        .call(d3.axisTop(x).tickValues(timeTicks).tickFormat('')
            .tickSizeInner(-6).tickSizeOuter(0));

    // left axis with labels
    var yAxisG = g.append('g')
        .attr('transform', 'translate(' + plotLeft + ',0)')
        .call(d3.axisLeft(y).tickValues(phaseTicks)
            .tickFormat(function(d, i) { return phaseTickLabels[i]; })
            .tickSizeInner(-6).tickSizeOuter(0).tickPadding(3.3));
    yAxisG.selectAll('text')
        .attr('transform', 'scale(' + SX + ',1)')
        .style('font-size', fontSize + 'px')
        .attr('fill', '#000');

    // right axis, ticks only
    g.append('g')
        .attr('transform', 'translate(' + plotRight + ',0)')
        .call(d3.axisRight(y).tickValues(phaseTicks).tickFormat('')
            .tickSizeInner(-6).tickSizeOuter(0));

    g.selectAll('.domain').remove();
    g.selectAll('.tick line').attr('stroke', '#000').attr('stroke-width', 1);

    // axes frame
    g.append('rect')
        .attr('x', plotLeft).attr('y', top)
        .attr('width', plotRight - plotLeft).attr('height', bottom - top)
        .attr('fill', 'none')
        .attr('stroke', '#111')
        .attr('stroke-width', 1.8);

    // offset label for the time axis
    g.append('text')
        .attr('transform', 'translate(' + [plotRight + 1, bottom + 32] + ') scale(' + SX + ',1)')
        .attr('text-anchor', 'end')
        .style('font-size', fontSize + 'px')
        .text(timeOffsetLabel);

    // y axis label
    g.append('text')
        .attr('transform', 'translate(' + [33, (top + bottom) / 2] + ') rotate(-90)')
        .attr('text-anchor', 'middle')
        .style('font-size', fontSize + 'px')
        .text(yLabel);
}

drawPanel(54, 273, 'Phase (rad)', [
    {data: phaseA, color: '#0000ff'},
    {data: phaseB, color: '#008000'}
]);

drawPanel(318, 537.5, 'Phase difference (rad)', [
    {data: phaseDiff.concat(phaseDiffOutliers), color: '#0000ff'}
]);

// x axis label
svg.append('text')
    .attr('transform', 'translate(' + [(plotLeft + plotRight) / 2, 575] + ') scale(' + SX + ',1)')
    .attr('text-anchor', 'middle')
    .style('font-size', fontSize + 'px')
    .text('Time (MJD)');
</script>
</body>
</html>
